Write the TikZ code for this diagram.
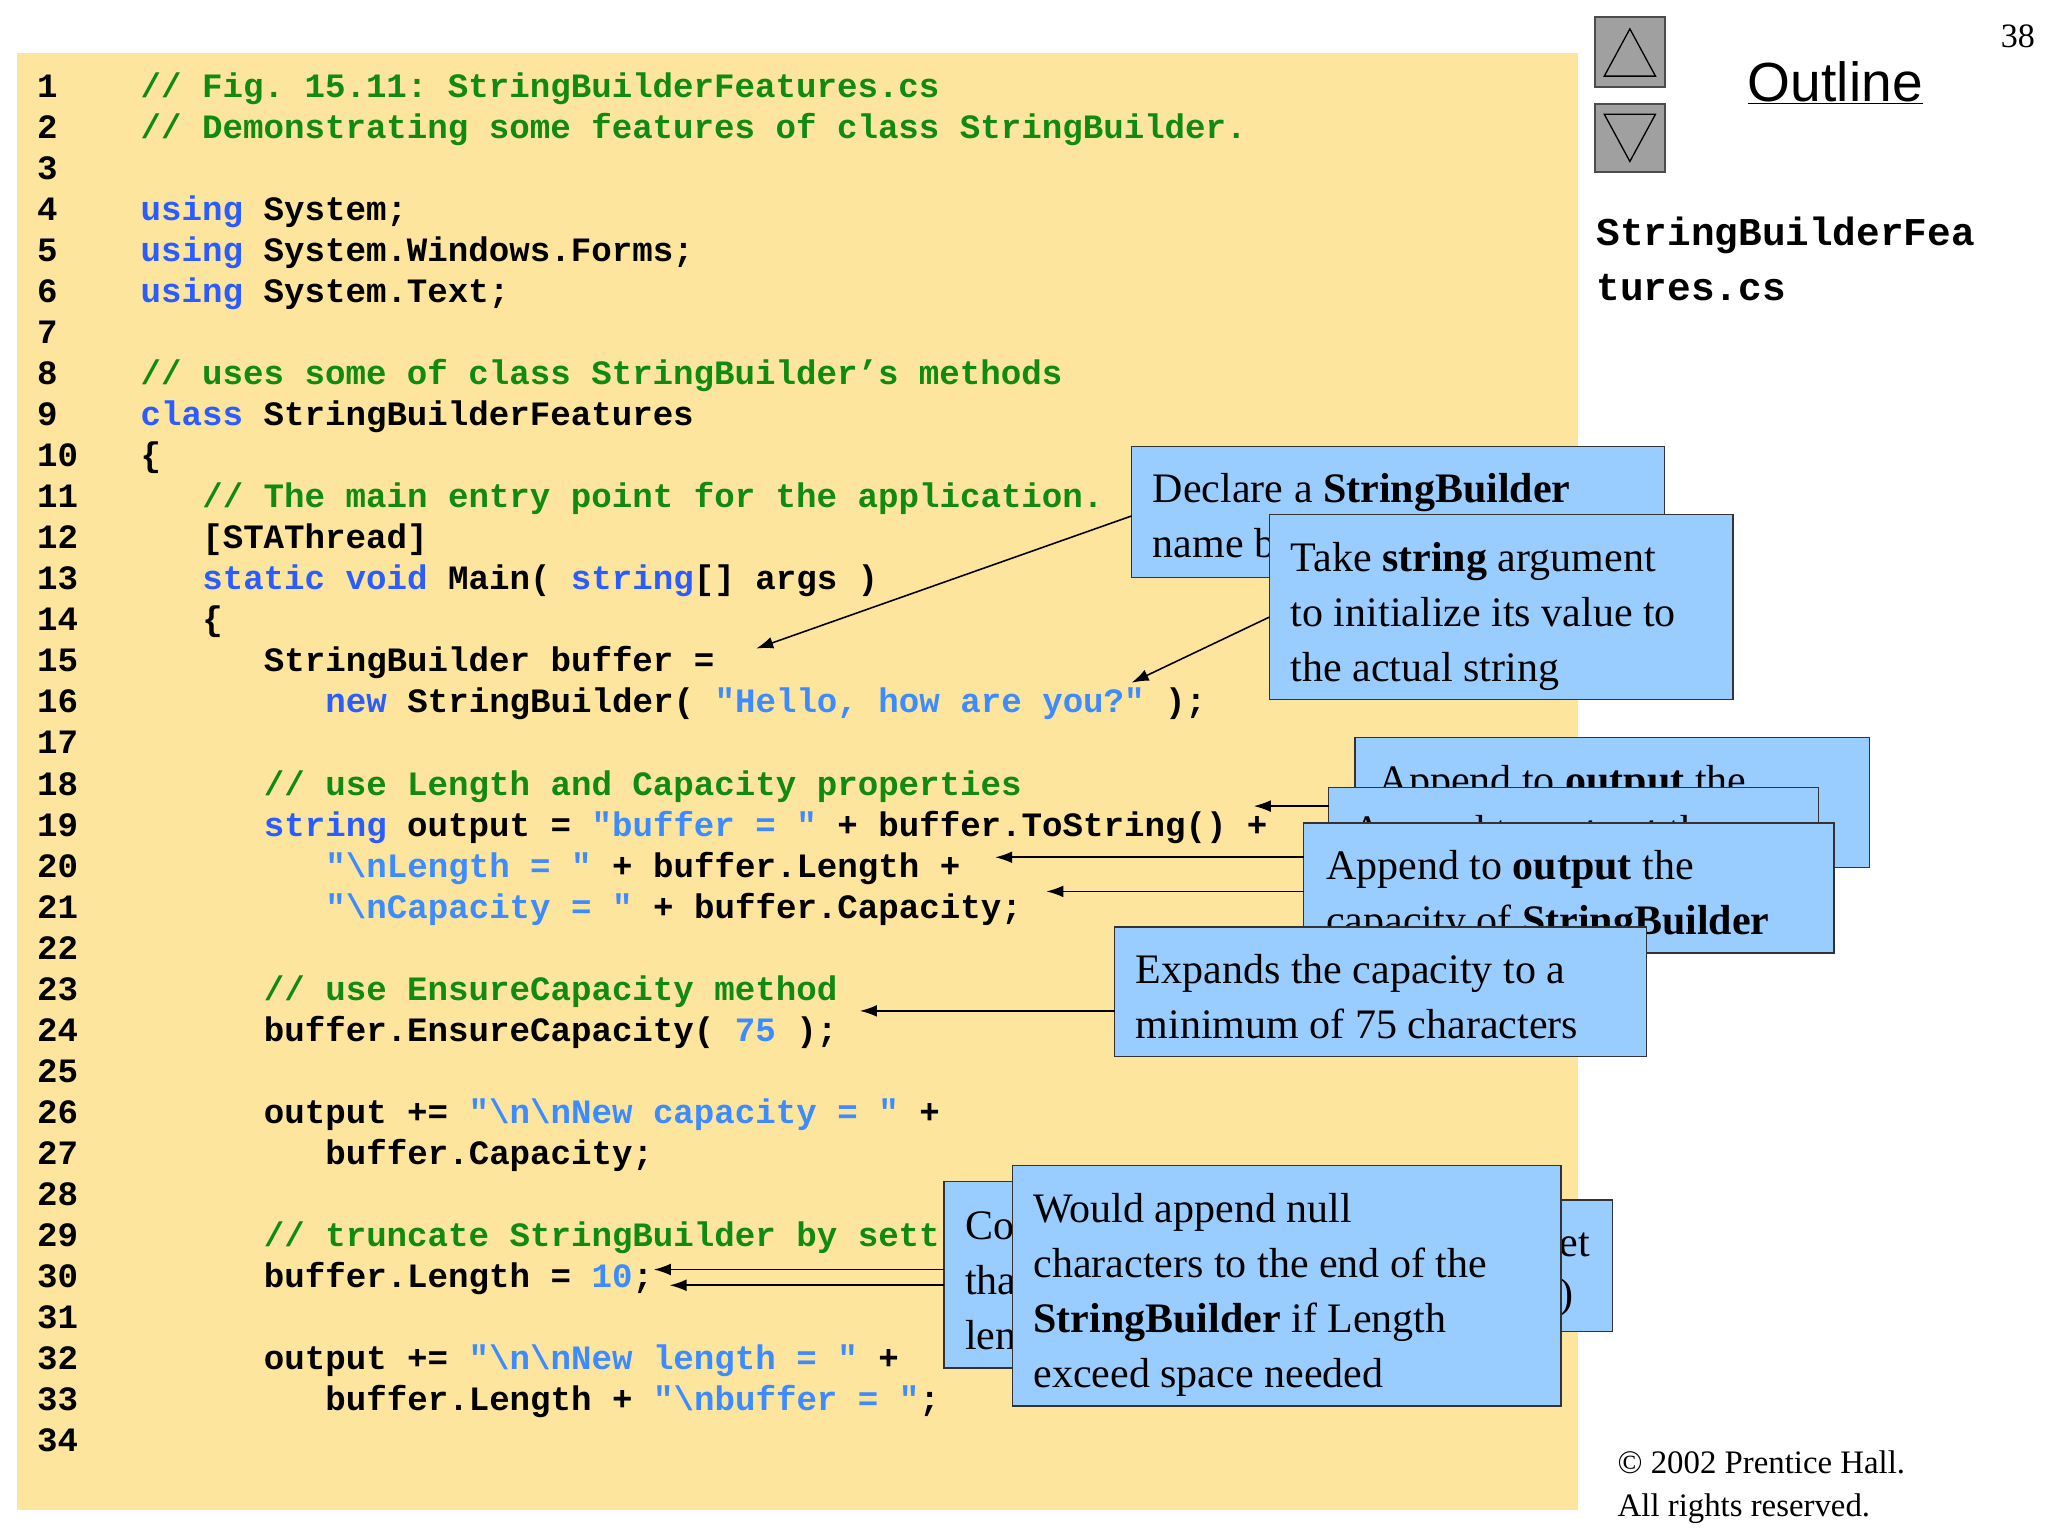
\documentclass[tikz,border=0pt]{standalone}
\usepackage{fontspec}
\usetikzlibrary{arrows.meta}
\setmainfont{Liberation Serif}
\setmonofont{Liberation Mono}
\setsansfont{Liberation Sans}
\definecolor{bg}{HTML}{FDE59D}
\definecolor{cg}{HTML}{108A10}
\definecolor{kw}{HTML}{2A5CFF}
\definecolor{sc}{HTML}{3C8CFF}
\definecolor{bx}{HTML}{99CCFF}
\definecolor{btn}{HTML}{A0A0A0}
\newcommand{\cm}[1]{\textcolor{cg}{#1}}
\newcommand{\kw}[1]{\textcolor{kw}{#1}}
\newcommand{\sq}[1]{\textcolor{sc}{#1}}
\newcommand{\bs}{\textbackslash}
\newcommand{\cl}[3]{\node[code] (l#1) at ({107+#2*15.63},{66+(#1-1)*31.27+8}) {#3};
  \node[code] (n#1) at (28,{66+(#1-1)*31.27+8}) {#1};}
\tikzset{
  code/.style={anchor=base west,inner sep=0,font=\fontsize{26}{30}\ttfamily\bfseries},
  box/.style={draw=black!80,line width=1pt,fill=bx},
  btxt/.style={anchor=base west,inner sep=0,font=\fontsize{32}{38}\selectfont},
  arr/.style={-{Latex[length=13pt,width=9pt]},line width=1.2pt}
}
\begin{document}
\begin{tikzpicture}[x=1pt,y=-1pt]
\useasboundingbox (0,0) rectangle (1560,1170);
\fill[bg] (13,40) rectangle (1202,1150);
\cl{1}{0}{\cm{// Fig. 15.11: StringBuilderFeatures.cs}}
\cl{2}{0}{\cm{// Demonstrating some features of class StringBuilder.}}
\cl{3}{0}{}
\cl{4}{0}{\kw{using} System;}
\cl{5}{0}{\kw{using} System.Windows.Forms;}
\cl{6}{0}{\kw{using} System.Text;}
\cl{7}{0}{}
\cl{8}{0}{\cm{// uses some of class StringBuilder’s methods}}
\cl{9}{0}{\kw{class} StringBuilderFeatures}
\cl{10}{0}{\{}
\cl{11}{3}{\cm{// The main entry point for the application.}}
\cl{12}{3}{[STAThread]}
\cl{13}{3}{\kw{static} \kw{void} Main( \kw{string}[] args )}
\cl{14}{3}{\{}
\cl{15}{6}{StringBuilder buffer =}
\cl{16}{9}{\kw{new} StringBuilder( \sq{"Hello, how are you?"} );}
\cl{17}{0}{}
\cl{18}{6}{\cm{// use Length and Capacity properties}}
\cl{19}{6}{\kw{string} output = \sq{"buffer = "} + buffer.ToString() +}
\cl{20}{9}{\sq{"\bs nLength = "} + buffer.Length +}
\cl{21}{9}{\sq{"\bs nCapacity = "} + buffer.Capacity;}
\cl{22}{0}{}
\cl{23}{6}{\cm{// use EnsureCapacity method}}
\cl{24}{6}{buffer.EnsureCapacity( \sq{75} );}
\cl{25}{0}{}
\cl{26}{6}{output += \sq{"\bs n\bs nNew capacity = "} +}
\cl{27}{9}{buffer.Capacity;}
\cl{28}{0}{}
\cl{29}{6}{\cm{// truncate StringBuilder by sett}}
\cl{30}{6}{buffer.Length = \sq{10};}
\cl{31}{0}{}
\cl{32}{6}{output += \sq{"\bs n\bs nNew length = "} +}
\cl{33}{9}{buffer.Length + \sq{"\bs nbuffer = "};}
\cl{34}{0}{}
% nav
\draw[fill=btn,draw=black!70,line width=1.5pt] (1215,13) rectangle (1268,66);
\draw[fill=btn,draw=black!70,line width=1.5pt] (1215,79) rectangle (1268,131);
\draw[fill=btn,draw=black,line width=1pt] (1222,58) -- (1261,58) -- (1241.5,22) -- cycle;
\draw[fill=btn,draw=black,line width=1pt] (1222,87) -- (1261,87) -- (1241.5,123) -- cycle;
\node[font=\fontsize{42}{46}\sffamily] (ol) at (1398,63) {\underline{Outline}};
\node[font=\fontsize{26}{30}\selectfont] (pg) at (1537,28) {38};
\node[anchor=base west,inner sep=0,font=\fontsize{30}{34}\ttfamily\bfseries] (fn1) at (1216,187) {StringBuilderFea};
\node[anchor=base west,inner sep=0,font=\fontsize{30}{34}\ttfamily\bfseries] (fn2) at (1216,229) {tures.cs};
\node[anchor=base west,inner sep=0,font=\fontsize{25}{28}\selectfont] (cp1) at (1232,1122) {© 2002 Prentice Hall.};
\node[anchor=base west,inner sep=0,font=\fontsize{25}{28}\selectfont] (cp2) at (1232,1155) {All rights reserved.};
% arrows
\coordinate (a1) at (576,494); \coordinate (a2) at (862,520);
\coordinate (a3) at (955,614); \coordinate (a4) at (758,653);
\coordinate (a5) at (797,679); \coordinate (a6) at (655,770);
\coordinate (a7) at (498,967); \coordinate (a8) at (510,979);
% box 1
\draw[box] (862,340) rectangle (1268,440);
\node[btxt] (t1a) at (878,383) {Declare a \textbf{StringBuilder}};
\node[btxt] (t1b) at (878,425) {name b};
\draw[arr] (862,393) -- (a1);
% box 2
\draw[box] (967,392) rectangle (1320,533);
\node[btxt] (t2a) at (983,435) {Take \textbf{string} argument};
\node[btxt] (t2b) at (983,477) {to initialize its value to};
\node[btxt] (t2c) at (983,519) {the actual string};
\draw[arr] (967,470) -- (a2);
% box 3,4,5
\draw[box] (1032,562) rectangle (1424,661);
\node[btxt] (t3a) at (1050,605) {Append to \textbf{output} the};
\draw[box] (1012,600) rectangle (1385,661);
\node[btxt] (t4a) at (1030,643) {Append to \textbf{output} the};
\draw[arr] (1012,614) -- (a3);
\draw[box] (993,627) rectangle (1397,726);
\node[btxt] (t5a) at (1010,670) {Append to \textbf{output} the};
\node[btxt] (t5b) at (1010,712) {capacity of \textbf{StringBuilder}};
\draw[arr] (993,653) -- (a4);
\draw[arr] (993,679) -- (a5);
% box 6
\draw[box] (849,706) rectangle (1254,805);
\node[btxt] (t6a) at (865,749) {Expands the capacity to a};
\node[btxt] (t6b) at (865,791) {minimum of 75 characters};
\draw[arr] (849,770) -- (a6);
% box 7
\draw[box] (1100,914) rectangle (1228,1014);
\node[btxt] (t7x) at (1188,957) {et};
\node[btxt] (t7y) at (1188,996) {)};
\draw[box] (719,900) rectangle (1100,1042);
\node[btxt] (t7a) at (735,944) {Co};
\node[btxt] (t7b) at (735,986) {tha};
\node[btxt] (t7c) at (735,1028) {len};
\draw[arr] (719,967) -- (a7);
\draw[arr] (719,979) -- (a8);
% box 8
\draw[box] (771,888) rectangle (1189,1071);
\node[btxt] (t8a) at (787,931) {Would append null};
\node[btxt] (t8b) at (787,973) {characters to the end of the};
\node[btxt] (t8c) at (787,1015) {\textbf{StringBuilder} if Length};
\node[btxt] (t8d) at (787,1057) {exceed space needed};
\end{tikzpicture}
\end{document}
